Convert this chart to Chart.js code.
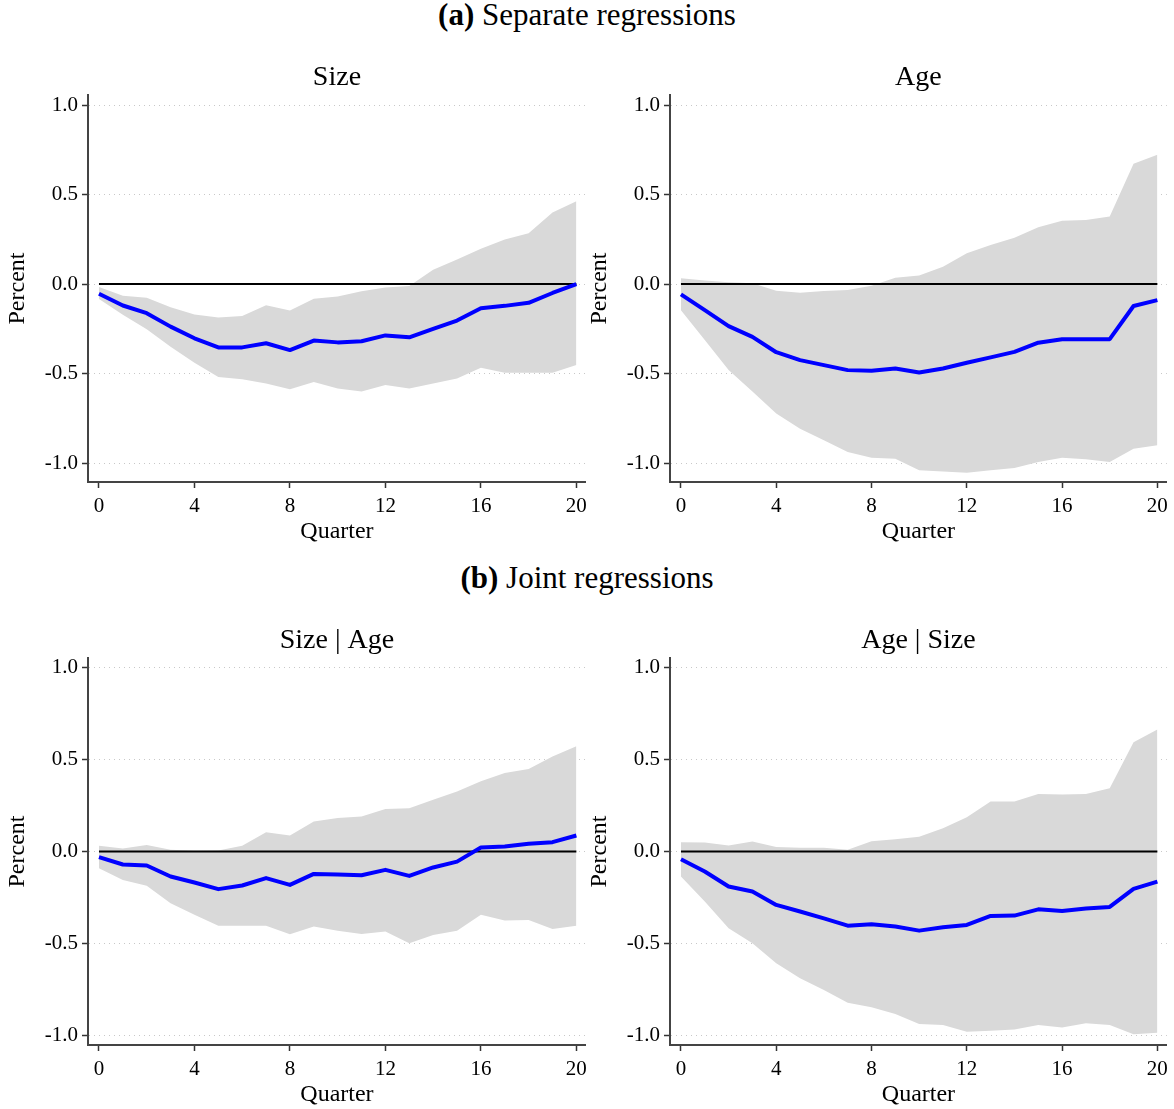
<!DOCTYPE html>
<html>
<head>
<meta charset="utf-8">
<script src="https://cdn.jsdelivr.net/npm/chart.js@4.4.1/dist/chart.umd.min.js"></script>
<style>
  body { margin: 0; background: #fff; width: 1174px; height: 1109px; position: relative; overflow: hidden;
         font-family: "Liberation Serif", serif; color: #000; }
  .head { position: absolute; left: 0; width: 1174px; text-align: center; font-size: 31px; line-height: 36px; }
  canvas { position: absolute; }
</style>
</head>
<body>
<div class="head" style="top:-3px"><b>(a)</b> Separate regressions</div>
<div class="head" style="top:560px"><b>(b)</b> Joint regressions</div>
<canvas id="c0" width="593" height="506" style="left:0;top:40px"></canvas>
<canvas id="c1" width="592" height="506" style="left:582px;top:40px"></canvas>
<canvas id="c2" width="593" height="506" style="left:0;top:603px"></canvas>
<canvas id="c3" width="592" height="506" style="left:582px;top:603px"></canvas>
<script>
const quarters = [0, 1, 2, 3, 4, 5, 6, 7, 8, 9, 10, 11, 12, 13, 14, 15, 16, 17, 18, 19, 20];
const xTicks = [0, 4, 8, 12, 16, 20];
const yTicks = [-1, -0.5, 0, 0.5, 1];

// separate regressions: size
const sizeSep   = [-0.054, -0.12, -0.163, -0.238, -0.303, -0.354, -0.354, -0.331, -0.369, -0.316, -0.326, -0.32, -0.287, -0.298, -0.251, -0.204, -0.135, -0.122, -0.105, -0.05, 0.0];
const sizeSepHi = [-0.017, -0.066, -0.077, -0.13, -0.17, -0.187, -0.178, -0.118, -0.148, -0.082, -0.069, -0.041, -0.019, -0.011, 0.08, 0.137, 0.197, 0.249, 0.283, 0.399, 0.463];
const sizeSepLo = [-0.084, -0.172, -0.253, -0.35, -0.44, -0.519, -0.532, -0.556, -0.588, -0.547, -0.584, -0.601, -0.564, -0.584, -0.556, -0.528, -0.468, -0.496, -0.496, -0.496, -0.453];

// separate regressions: age
const ageSep   = [-0.058, -0.146, -0.235, -0.295, -0.381, -0.425, -0.453, -0.481, -0.485, -0.472, -0.494, -0.472, -0.44, -0.41, -0.379, -0.328, -0.308, -0.308, -0.308, -0.123, -0.09];
const ageSepHi = [0.032, 0.02, 0.01, 0.004, -0.037, -0.049, -0.039, -0.034, -0.009, 0.035, 0.047, 0.097, 0.172, 0.218, 0.259, 0.317, 0.354, 0.358, 0.377, 0.672, 0.722];
const ageSepLo = [-0.146, -0.313, -0.48, -0.6, -0.724, -0.808, -0.873, -0.938, -0.97, -0.976, -1.04, -1.047, -1.054, -1.04, -1.028, -0.994, -0.97, -0.979, -0.994, -0.92, -0.901];

// joint regressions: size given age
const sizeJoint   = [-0.031, -0.071, -0.076, -0.136, -0.169, -0.205, -0.185, -0.145, -0.182, -0.122, -0.125, -0.129, -0.1, -0.133, -0.087, -0.055, 0.022, 0.027, 0.042, 0.051, 0.087];
const sizeJointHi = [0.031, 0.016, 0.035, 0.009, 0.004, 0.005, 0.031, 0.105, 0.087, 0.164, 0.182, 0.191, 0.231, 0.236, 0.282, 0.327, 0.382, 0.427, 0.449, 0.518, 0.573];
const sizeJointLo = [-0.091, -0.155, -0.187, -0.282, -0.345, -0.405, -0.404, -0.404, -0.451, -0.409, -0.431, -0.449, -0.436, -0.5, -0.455, -0.431, -0.345, -0.376, -0.373, -0.422, -0.404];

// joint regressions: age given size
const ageJoint   = [-0.042, -0.109, -0.191, -0.218, -0.291, -0.327, -0.364, -0.404, -0.396, -0.409, -0.431, -0.413, -0.4, -0.351, -0.349, -0.315, -0.324, -0.311, -0.302, -0.204, -0.164];
const ageJointHi = [0.051, 0.049, 0.033, 0.055, 0.024, 0.02, 0.02, 0.009, 0.056, 0.067, 0.08, 0.127, 0.187, 0.273, 0.273, 0.313, 0.311, 0.313, 0.345, 0.595, 0.664];
const ageJointLo = [-0.136, -0.273, -0.418, -0.5, -0.609, -0.691, -0.755, -0.824, -0.849, -0.885, -0.94, -0.945, -0.982, -0.976, -0.969, -0.945, -0.958, -0.936, -0.945, -0.996, -0.987];

const zeroLine = quarters.map(() => 0);

const FONT = '"Liberation Serif", serif';
const BAND = '#d9d9d9';

function pts(values) {
    return quarters.map((q, i) => ({ x: q, y: values[i] }));
}

function makePanel(id, title, mid, hi, lo, yMin, yMax) {
    const ctx = document.getElementById(id).getContext('2d');
    return new Chart(ctx, {
        type: 'line',
        data: {
            datasets: [
                { data: pts(mid), borderColor: '#0000ff', borderWidth: 4, pointRadius: 0, tension: 0,
                  borderJoinStyle: 'round', fill: false },
                { data: pts(zeroLine), borderColor: '#000', borderWidth: 2.2, pointRadius: 0, fill: false },
                { data: pts(hi), borderWidth: 0, borderColor: 'rgba(0,0,0,0)', backgroundColor: BAND,
                  pointRadius: 0, fill: '+1' },
                { data: pts(lo), borderWidth: 0, borderColor: 'rgba(0,0,0,0)', pointRadius: 0, fill: false }
            ]
        },
        options: {
            responsive: false,
            animation: false,
            events: [],
            layout: { padding: { left: 0, right: 2, top: 0, bottom: 0 } },
            plugins: {
                legend: { display: false },
                tooltip: { enabled: false },
                title: {
                    display: true,
                    fullSize: false,   // centre over the plot area, not the whole canvas
                    text: title,
                    color: '#000',
                    font: { family: FONT, size: 28, weight: 'normal' },
                    padding: { top: 20.4, bottom: 1 }
                }
            },
            scales: {
                x: {
                    type: 'linear',
                    min: -0.46,
                    max: 20.4,
                    afterBuildTicks: s => { s.ticks = xTicks.map(v => ({ value: v })); },
                    afterFit: s => { s.height = 64; },
                    ticks: { color: '#000', font: { family: FONT, size: 21 }, padding: 6, autoSkip: false,
                             maxRotation: 0 },
                    grid: { drawOnChartArea: false, drawTicks: true, tickLength: 6, tickColor: '#333', tickWidth: 1.5 },
                    border: { display: true, color: '#444', width: 2 },
                    title: { display: true, text: 'Quarter', color: '#000',
                             font: { family: FONT, size: 24 }, padding: { top: 0, bottom: -0.6 } }
                },
                y: {
                    type: 'linear',
                    min: yMin,
                    max: yMax,
                    afterBuildTicks: s => { s.ticks = yTicks.map(v => ({ value: v })); },
                    afterFit: s => { s.width = 88; },
                    ticks: { color: '#000', font: { family: FONT, size: 21 }, padding: 4, autoSkip: false,
                             callback: v => v.toFixed(1) },
                    grid: { color: '#c8c8c8', lineWidth: 1, drawTicks: true, tickLength: 6,
                            tickColor: '#333', tickWidth: 1.5 },
                    border: { display: true, color: '#444', width: 2, dash: [1, 4] },
                    title: { display: true, text: 'Percent', color: '#000',
                             font: { family: FONT, size: 24 }, padding: { top: 3.6, bottom: 0 } }
                }
            }
        }
    });
}

makePanel('c0', 'Size', sizeSep, sizeSepHi, sizeSepLo, -1.106, 1.056);
makePanel('c1', 'Age', ageSep, ageSepHi, ageSepLo, -1.106, 1.056);
makePanel('c2', 'Size | Age', sizeJoint, sizeJointHi, sizeJointLo, -1.054, 1.054);
makePanel('c3', 'Age | Size', ageJoint, ageJointHi, ageJointLo, -1.054, 1.054);
</script>
</body>
</html>
